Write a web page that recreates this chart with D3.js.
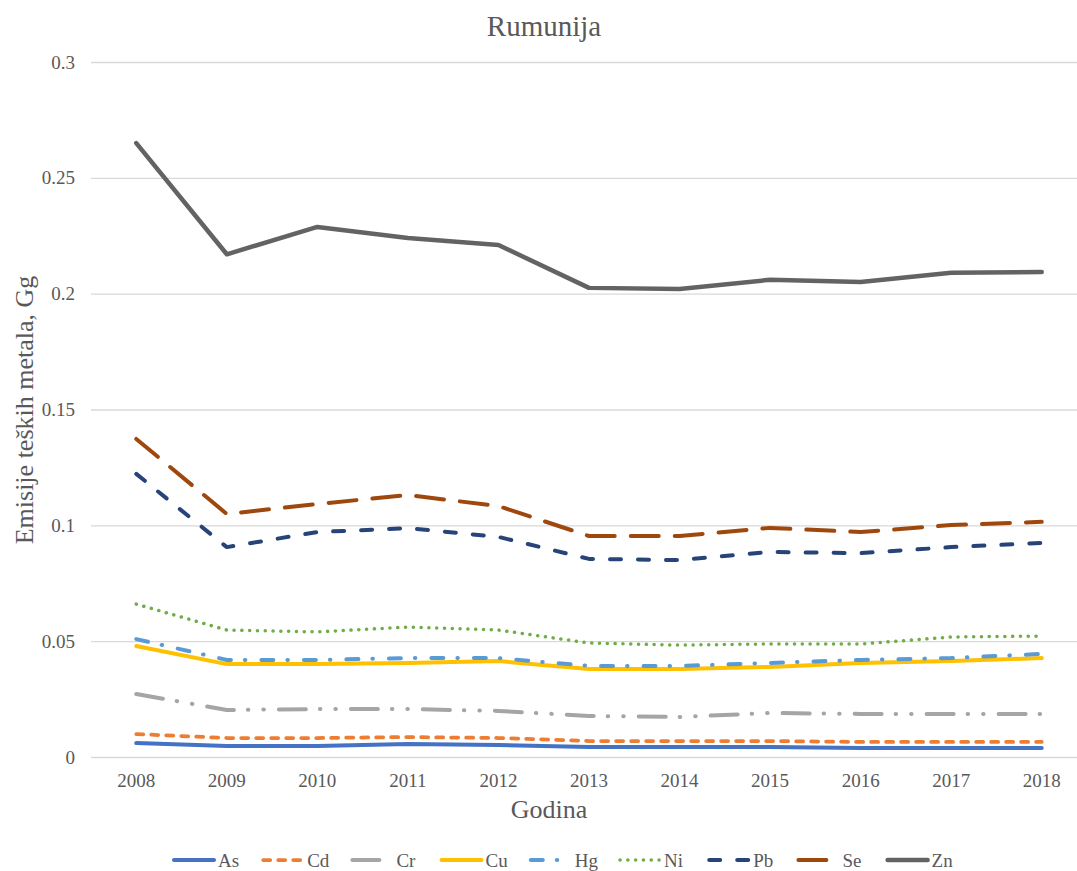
<!DOCTYPE html>
<html>
    <head>
        <style>
            body { margin: 0; background: #fff; }
            svg { display: block; font-family: "Liberation Serif", "Times New Roman", serif; }
        </style>
    </head>
    <body>
        <div id="chart"></div>

        <script src="https://cdnjs.cloudflare.com/ajax/libs/d3/7.8.5/d3.min.js"></script>

    <script>
        var years = [2008, 2009, 2010, 2011, 2012, 2013, 2014, 2015, 2016, 2017, 2018];
        var yTicks = [0, 0.05, 0.1, 0.15, 0.2, 0.25, 0.3];
        var seriesNames = ["As", "Cd", "Cr", "Cu", "Hg", "Ni", "Pb", "Se", "Zn"];

        var As = [0.0060, 0.0047, 0.0047, 0.0056, 0.0052, 0.0043, 0.0043, 0.0043, 0.0039, 0.0039, 0.0039];
        var Cd = [0.0099, 0.0082, 0.0082, 0.0086, 0.0082, 0.0069, 0.0069, 0.0069, 0.0065, 0.0065, 0.0065];
        var Cr = [0.0272, 0.0203, 0.0207, 0.0207, 0.0199, 0.0177, 0.0173, 0.0190, 0.0186, 0.0186, 0.0186];
        var Cu = [0.0479, 0.0401, 0.0401, 0.0406, 0.0414, 0.0380, 0.0380, 0.0389, 0.0406, 0.0414, 0.0427];
        var Hg = [0.0509, 0.0419, 0.0419, 0.0427, 0.0427, 0.0393, 0.0393, 0.0406, 0.0419, 0.0427, 0.0445];
        var Ni = [0.0660, 0.0548, 0.0540, 0.0561, 0.0548, 0.0492, 0.0483, 0.0488, 0.0488, 0.0518, 0.0522];
        var Pb = [0.1222, 0.0906, 0.0971, 0.0988, 0.0950, 0.0855, 0.0850, 0.0885, 0.0880, 0.0906, 0.0924];
        var Se = [0.1373, 0.1049, 0.1092, 0.1131, 0.1083, 0.0954, 0.0954, 0.0989, 0.0971, 0.1001, 0.1015];
        var Zn = [0.2650, 0.2170, 0.2288, 0.2240, 0.2210, 0.2025, 0.2020, 0.2060, 0.2050, 0.2090, 0.2094];

        (function() {
            var width = 1077,
                height = 871;

            var values = {As: As, Cd: Cd, Cr: Cr, Cu: Cu, Hg: Hg, Ni: Ni, Pb: Pb, Se: Se, Zn: Zn};

            // line styles, roughly what excel gives
            var styles = {
                As: {color: "#4472C4", dash: null, w: 4},
                Cd: {color: "#ED7D31", dash: "7 8", w: 3.75},
                Cr: {color: "#A5A5A5", dash: "27 14 0.5 15 0.5 15", w: 4},
                Cu: {color: "#FFC000", dash: null, w: 4},
                Hg: {color: "#5B9BD5", dash: "12 14 0.5 16", w: 4},
                Ni: {color: "#70AD47", dash: "0.1 7.7", w: 3.5},
                Pb: {color: "#264478", dash: "11 17", w: 4},
                Se: {color: "#9E480E", dash: "28 16", w: 4},
                Zn: {color: "#636363", dash: null, w: 4.5}
            };

            var svg = d3.select("#chart")
                .append("svg")
                .attr("width", width)
                .attr("height", height);

            var x = d3.scalePoint().domain(years).range([91, 1087]).padding(0.5);
            var y = d3.scaleLinear().domain([0, 0.3]).range([757, 62]);

            // gridlines
            svg.append("g")
                .selectAll("line")
                .data(yTicks)
                .enter().append("line")
                .attr("x1", 91)
                .attr("x2", 1087)
                .attr("y1", function(d) { return y(d) + 0.5; })
                .attr("y2", function(d) { return y(d) + 0.5; })
                .attr("stroke", "#d9d9d9")
                .attr("stroke-width", 1.3);

            // y tick labels
            svg.append("g")
                .selectAll("text")
                .data(yTicks)
                .enter().append("text")
                .attr("x", 75)
                .attr("y", function(d) { return y(d); })
                .attr("dy", "0.35em")
                .attr("text-anchor", "end")
                .attr("fill", "#595959")
                .style("font-size", "19px")
                .text(function(d) { return d3.format("")(d); });

            // x tick labels
            svg.append("g")
                .selectAll("text")
                .data(years)
                .enter().append("text")
                .attr("x", function(d) { return x(d); })
                .attr("y", 787)
                .attr("text-anchor", "middle")
                .attr("fill", "#595959")
                .style("font-size", "19px")
                .text(function(d) { return d; });

            var line = d3.line()
                .x(function(d, i) { return x(years[i]); })
                .y(function(d) { return y(d); });

            svg.append("g")
                .selectAll("path")
                .data(seriesNames)
                .enter().append("path")
                .attr("d", function(d) { return line(values[d]); })
                .attr("fill", "none")
                .attr("stroke", function(d) { return styles[d].color; })
                .attr("stroke-width", function(d) { return styles[d].w; })
                .attr("stroke-dasharray", function(d) { return styles[d].dash; })
                .attr("stroke-linecap", "round")
                .attr("stroke-linejoin", "round");

            // title
            svg.append("text")
                .attr("x", 544)
                .attr("y", 36)
                .attr("text-anchor", "middle")
                .attr("fill", "#595959")
                .style("font-size", "29px")
                .text("Rumunija");

            svg.append("text")
                .attr("x", 549)
                .attr("y", 818)
                .attr("text-anchor", "middle")
                .attr("fill", "#595959")
                .style("font-size", "26px")
                .text("Godina");

            svg.append("text")
                .attr("transform", "translate(33,410) rotate(-90)")
                .attr("text-anchor", "middle")
                .attr("fill", "#595959")
                .style("font-size", "26px")
                .text("Emisije teških metala, Gg");

            // legend
            var legend = svg.append("g")
                .selectAll("g")
                .data(seriesNames)
                .enter().append("g")
                .attr("transform", function(d, i) { return "translate(" + (172 + i * 89.2) + ",860)"; });

            legend.append("line")
                .attr("x1", 2)
                .attr("x2", 42)
                .attr("stroke", function(d) { return styles[d].color; })
                .attr("stroke-width", function(d) { return styles[d].w; })
                .attr("stroke-dasharray", function(d) { return styles[d].dash; })
                .attr("stroke-linecap", "round");

            legend.append("text")
                .attr("x", 46)
                .attr("dy", "0.35em")
                .attr("fill", "#595959")
                .style("font-size", "19px")
                .text(function(d) { return d; });
        })();
    </script>
    </body>
</html>
